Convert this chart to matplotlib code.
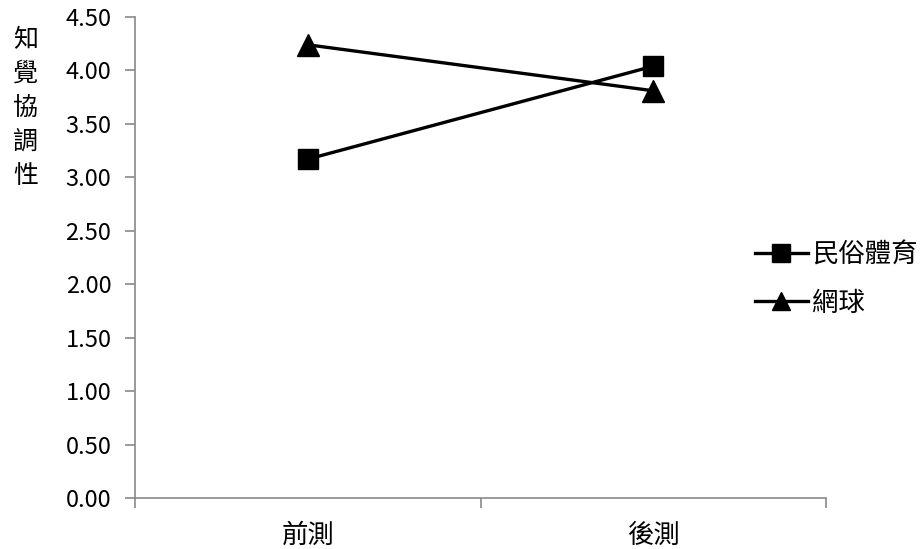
import matplotlib
matplotlib.use("Agg")
import matplotlib.pyplot as plt
from matplotlib.ticker import FixedLocator, NullFormatter

plt.rcParams['font.family'] = ['Noto Sans CJK TC', 'DejaVu Sans']

categories = ['前測', '後測']
series_names = ['民俗體育', '網球']
folk_values = [3.17, 4.04]
tennis_values = [4.24, 3.81]
y_ticks = [0.0, 0.5, 1.0, 1.5, 2.0, 2.5, 3.0, 3.5, 4.0, 4.5]
y_label = '知覺協調性'

fig = plt.figure(figsize=(9.23, 5.49), dpi=100)
ax = fig.add_axes([135/923, 51/549, (826-135)/923, (498-17)/549])

x = list(range(len(categories)))
ax.plot(x, folk_values, color='black', lw=2.4, marker='s', markersize=15, label=series_names[0])
ax.plot(x, tennis_values, color='black', lw=2.4, marker='^', markersize=16, label=series_names[1])

ax.set_xlim(-0.5, len(categories) - 0.5)
ax.set_ylim(0, 4.5)
ax.set_yticks(y_ticks)
ax.set_yticklabels([f'{v:.2f}' for v in y_ticks], fontsize=17)
ax.xaxis.set_major_locator(FixedLocator([-0.5, 0.5, 1.5]))
ax.xaxis.set_major_formatter(NullFormatter())
ax.xaxis.set_minor_locator(FixedLocator(x))
ax.set_xticklabels(categories, minor=True, fontsize=19, fontweight='light')
ax.tick_params(axis='x', which='minor', length=0, pad=17)
ax.tick_params(axis='x', which='major', length=7, color='#898989', width=1.2)
ax.tick_params(axis='y', length=7, color='#898989', width=1.2, pad=10)

for s in ['top', 'right']:
    ax.spines[s].set_visible(False)
for s in ['left', 'bottom']:
    ax.spines[s].set_color('#898989')
    ax.spines[s].set_linewidth(1.2)

fig.text(26/923, 1 - 108/549, '\n'.join(y_label), ha='center', va='center',
         fontsize=18, linespacing=1.4)

leg = ax.legend(loc='center left', bbox_to_anchor=(755/923, 1 - 279/549),
                bbox_transform=fig.transFigure, frameon=False,
                borderpad=0, borderaxespad=0,
                handlelength=2.0, handletextpad=0.15, labelspacing=0.8,
                prop={'size': 19, 'weight': 'light'})
for h in leg.legend_handles:
    h.set_markersize(12.5)

fig.savefig('out.png', dpi=100)
